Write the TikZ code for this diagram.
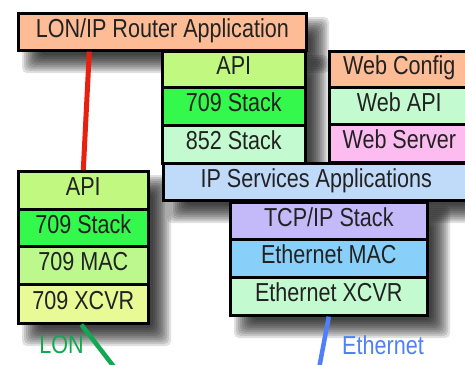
\documentclass[tikz,border=0pt]{standalone}
\usepackage{fontspec}
\setmainfont{Liberation Sans}[FakeStretch=0.83]
\definecolor{cPeach}{RGB}{253,187,150}
\definecolor{cApi}{RGB}{192,248,128}
\definecolor{cStack}{RGB}{52,248,76}
\definecolor{cPale}{RGB}{196,250,208}
\definecolor{cPink}{RGB}{252,188,240}
\definecolor{cIp}{RGB}{192,218,250}
\definecolor{cTcp}{RGB}{196,186,250}
\definecolor{cMac}{RGB}{136,208,250}
\definecolor{cLmac}{RGB}{188,248,140}
\definecolor{cXcvr}{RGB}{232,250,150}
\definecolor{cRed}{RGB}{232,32,16}
\definecolor{cGreen}{RGB}{16,168,80}
\definecolor{cBlue}{RGB}{80,128,248}
\definecolor{cInk}{RGB}{34,34,34}
\newcommand\softshadow[4]{%
  \foreach \k in {0,...,9}{%
    \fill[black,opacity=0.12,rounded corners=5pt]
      ({#1+5+2*\k},{#2+5+2*\k}) rectangle ({#3+24-2*\k},{#4+24-2*\k});}}
\tikzset{
  blk/.style={draw=black, line width=2.6pt, anchor=north west, inner sep=0pt,
    text=cInk, text height=19pt, text depth=8pt, font=\fontsize{26}{28}\selectfont},
  wire/.style={line width=4.5pt},
  lbl/.style={font=\fontsize{26}{28}\selectfont, inner sep=0pt}
}
\begin{document}
\begin{tikzpicture}[x=1pt,y=-1pt]
\useasboundingbox (0,0) rectangle (465,364);
\clip (0,0) rectangle (465,364);
\fill[white] (0,0) rectangle (465,364);
% shadows
\softshadow{17}{12}{305}{49}
\softshadow{161}{50}{304}{162}
\softshadow{328}{50}{468}{161}
\softshadow{162}{163}{468}{199}
\softshadow{229}{201}{426}{314}
\softshadow{17}{170}{147}{322}
% boxes
\node[blk, fill=cPeach, minimum width=288pt, minimum height=37pt] (router) at (17,12) {LON/IP Router Application};
\node[blk, fill=cApi, minimum width=143pt, minimum height=36pt] (mapi) at (161,50) {API};
\node[blk, fill=cStack, minimum width=143pt, minimum height=38pt] (mstack) at (161,86) {709 Stack};
\node[blk, fill=cPale, minimum width=143pt, minimum height=38pt] (mipstack) at (161,124) {852 Stack};
\node[blk, fill=cPeach, minimum width=140pt, minimum height=36pt] (webcfg) at (328,50) {Web Config};
\node[blk, fill=cPale, minimum width=140pt, minimum height=37pt] (webapi) at (328,86) {Web API};
\node[blk, fill=cPink, minimum width=140pt, minimum height=38pt] (websrv) at (328,123) {Web Server};
\node[blk, fill=cIp, minimum width=306pt, minimum height=37pt] (ipsvc) at (162,162) {IP Services Applications};
\node[blk, fill=cTcp, minimum width=197pt, minimum height=37pt] (tcpip) at (229,201) {TCP/IP Stack};
\node[blk, fill=cMac, minimum width=197pt, minimum height=38pt] (ethmac) at (229,238) {Ethernet MAC};
\node[blk, fill=cPale, minimum width=197pt, minimum height=38pt] (ethxcvr) at (229,276) {Ethernet XCVR};
\node[blk, fill=cApi, minimum width=130pt, minimum height=38pt] (lapi) at (17,170) {API};
\node[blk, fill=cStack, minimum width=130pt, minimum height=37pt] (lstack) at (17,208) {709 Stack};
\node[blk, fill=cLmac, minimum width=130pt, minimum height=38pt] (lmac) at (17,245) {709 MAC};
\node[blk, fill=cXcvr, minimum width=130pt, minimum height=39pt] (lxcvr) at (17,283) {709 XCVR};
% connectors
\coordinate (lonend) at (118,372);
\coordinate (ethend) at (318,374);
\draw[wire, cRed, line width=5pt] ([xshift=-73pt]router.south) -- (lapi.north);
\draw[wire, cGreen] ([xshift=-2pt]lxcvr.south) -- (lonend);
\draw[wire, cBlue] (ethxcvr.south) -- (ethend);
% labels
\node[lbl, text=cGreen] (lonlbl) at (61.5,345) {LON};
\node[lbl, text=cBlue] (ethlbl) at (383,345) {Ethernet};
\end{tikzpicture}
\end{document}
